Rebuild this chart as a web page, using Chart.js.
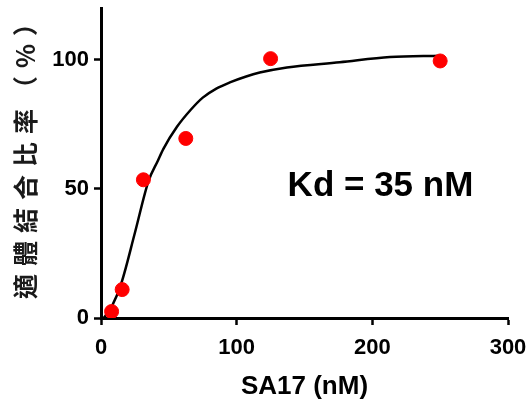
<!DOCTYPE html>
<html>
<head>
<meta charset="utf-8">
<script src="https://cdn.jsdelivr.net/npm/chart.js@4/dist/chart.umd.min.js"></script>
<style>
  html, body { margin: 0; padding: 0; background: #fff; }
  #wrap { width: 530px; height: 412px; }
</style>
</head>
<body>
<div id="wrap"><canvas id="bindingChart" width="530" height="412"></canvas></div>
<script>
// measured points (SA17 concentration, nM -> binding %)
const concNM = [7.8, 15.6, 31.25, 62.5, 125, 250];
const bindingPct = [2.5, 11, 53.5, 69.5, 100.4, 99.5];

// fitted curve
const fitX = [2, 8, 15, 25, 35, 42, 46, 56, 66, 75, 85, 95, 107, 117, 137, 176, 213, 250];
const fitY = [0, 4.5, 13.5, 33, 53, 61, 65.5, 74, 80.5, 85.3, 88.8, 91.2, 93.5, 95, 97, 99, 101, 101.5];

const xTicks = [0, 100, 200, 300];
const yTicks = [0, 50, 100];

const yTitle = "適體結合比率（%）";
const xTitle = "SA17 (nM)";
const kdLabel = "Kd = 35 nM";

// Kd label + rotated y title
const labelsPlugin = {
    id: "labels",
    afterDraw(chart) {
        const ctx = chart.ctx;
        const xs = chart.scales.x, ys = chart.scales.y;

        ctx.save();
        ctx.fillStyle = "#000";
        ctx.font = "bold 35px 'Liberation Sans', Arial, sans-serif";
        ctx.textAlign = "center";
        ctx.textBaseline = "middle";
        ctx.fillText(kdLabel, xs.getPixelForValue(206), ys.getPixelForValue(51));
        ctx.restore();

        ctx.save();
        ctx.fillStyle = "#1a1a1a";
        ctx.font = "bold 25px 'Noto Sans CJK TC', sans-serif";
        ctx.letterSpacing = "8px";
        ctx.textAlign = "center";
        ctx.textBaseline = "middle";
        ctx.translate(25, (ys.top + ys.bottom) / 2 - 12);
        ctx.rotate(-Math.PI / 2);
        ctx.fillText(yTitle, 0, 0);
        ctx.restore();
    }
};

new Chart(document.getElementById("bindingChart"), {
    type: "scatter",
    data: {
        datasets: [
            {
                label: "data",
                data: concNM.map((x, i) => ({ x, y: bindingPct[i] })),
                backgroundColor: "#ff0000",
                borderColor: "#ff0000",
                pointRadius: 7,
                pointHoverRadius: 7,
                order: 0
            },
            {
                label: "fit",
                data: fitX.map((x, i) => ({ x, y: fitY[i] })),
                showLine: true,
                borderColor: "#000",
                borderWidth: 2.5,
                pointRadius: 0,
                cubicInterpolationMode: "monotone",
                order: 1
            }
        ]
    },
    options: {
        responsive: false,
        animation: false,
        layout: { padding: { top: 8, right: 22, bottom: 0, left: 0 } },
        plugins: {
            legend: { display: false },
            tooltip: { enabled: false }
        },
        scales: {
            x: {
                type: "linear",
                min: 0,
                max: 300,
                afterFit(scale) {
                    scale.height = 94;
                    scale.paddingLeft = 0;
                    scale.paddingRight = 0;
                },
                afterBuildTicks(scale) { scale.ticks = xTicks.map(v => ({ value: v })); },
                border: { display: true, color: "#000", width: 3 },
                grid: { drawOnChartArea: false, drawTicks: true, tickLength: 7, tickColor: "#000", tickWidth: 2.5 },
                ticks: {
                    color: "#000",
                    padding: 10,
                    maxRotation: 0,
                    font: { family: "'Liberation Sans', Arial, sans-serif", size: 22, weight: "bold" }
                },
                title: {
                    display: true,
                    text: xTitle,
                    color: "#000",
                    padding: { top: 0, bottom: 10 },
                    font: { family: "'Liberation Sans', Arial, sans-serif", size: 26, weight: "bold" }
                }
            },
            y: {
                type: "linear",
                min: 0,
                max: 120,
                afterFit(scale) {
                    scale.width = 101;
                    scale.paddingTop = 0;
                    scale.paddingBottom = 0;
                },
                afterBuildTicks(scale) { scale.ticks = yTicks.map(v => ({ value: v })); },
                border: { display: true, color: "#000", width: 3 },
                grid: { drawOnChartArea: false, drawTicks: true, tickLength: 7, tickColor: "#000", tickWidth: 2.5 },
                ticks: {
                    color: "#000",
                    padding: 5,
                    font: { family: "'Liberation Sans', Arial, sans-serif", size: 22, weight: "bold" }
                }
            }
        }
    },
    plugins: [labelsPlugin]
});
</script>
</body>
</html>
